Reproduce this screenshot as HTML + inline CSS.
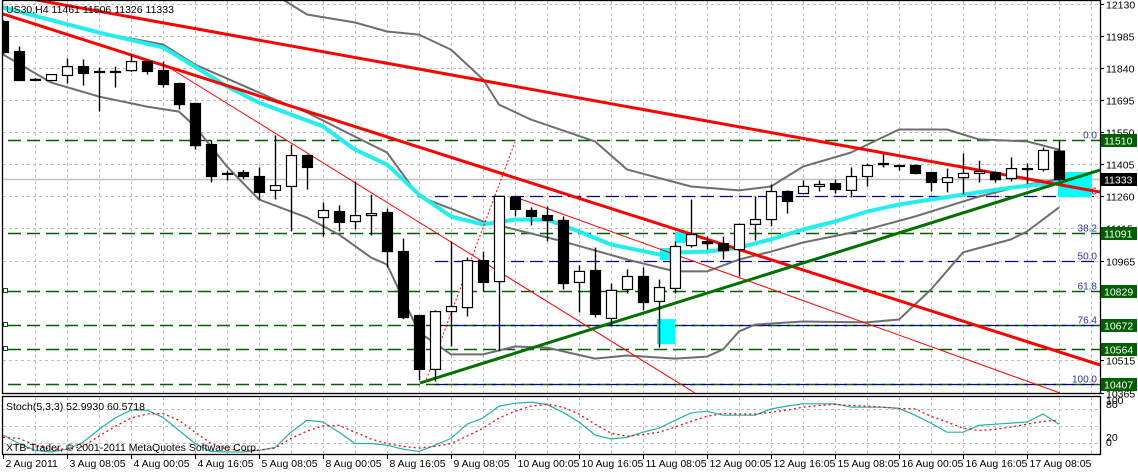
<!DOCTYPE html>
<html><head><meta charset="utf-8">
<style>
html,body{margin:0;padding:0;background:#fff;}
svg{display:block;font-family:"Liberation Sans",sans-serif;}
</style></head>
<body>
<svg id="chart" width="1138" height="472" viewBox="0 0 1138 472" xmlns="http://www.w3.org/2000/svg"></svg>
<script>
// ---- data ----
const opens  = [12048,11912,11786,11781,11804,11844,11822,11822,11826,11867,11826,11767,11677,11491,11360,11364,11346,11283,11301,11441,11160,11187,11142,11169,11183,11006,10716,10472,10734,10752,10965,10870,11251,11192,11169,11147,10866,10920,10703,10834,10893,10780,10839,11033,11051,11042,11015,11129,11151,11278,11269,11301,11314,11283,11346,11405,11396,11396,11364,11319,11341,11360,11364,11337,11382,11378,11461];
const highs  = [12055,11935,11792,11810,11881,11876,11840,11844,11899,11870,11867,11772,11680,11510,11370,11375,11387,11532,11490,11446,11228,11215,11323,11264,11201,11065,10720,10740,11052,10979,11006,11256,11256,11206,11210,11165,10943,11024,10861,10925,10934,10879,11052,11242,11074,11074,11133,11256,11310,11283,11328,11328,11332,11387,11405,11446,11400,11400,11364,11382,11450,11418,11369,11432,11405,11477,11506];
const lows   = [11900,11781,11778,11778,11767,11758,11641,11749,11820,11808,11749,11650,11468,11319,11328,11335,11242,11242,11098,11287,11074,11097,11106,11079,10934,10700,10422,10417,10576,10712,10825,10554,11165,11124,11052,10834,10730,10707,10667,10816,10739,10571,10816,11024,11015,10970,10893,11056,11120,11178,11269,11278,11269,11251,11301,11387,11373,11355,11278,11274,11265,11319,11319,11323,11314,11369,11326];
const closes = [11908,11781,11786,11808,11844,11813,11822,11822,11867,11822,11763,11672,11486,11346,11360,11346,11274,11305,11441,11387,11192,11138,11169,11178,11006,10707,10472,10734,10757,10965,10866,11256,11197,11165,11147,10861,10916,10721,10830,10893,10775,10843,11029,11083,11042,11010,11129,11151,11278,11233,11301,11310,11287,11346,11396,11400,11396,11360,11319,11341,11360,11369,11332,11382,11382,11464,11333];
const upperIdx = [17,19,22,24,26,28,30,31,33,37,39,43,46,48,50,53,56,59,61,64,66];
const upperVal = [12170,12080,12044,12003,11989,11921,11786,11672,11604,11505,11378,11301,11283,11301,11391,11455,11559,11559,11514,11505,11468];
const midIdx = [0,6,10,12,17,19,22,24,26,28,30,35,39,42,44,46,48,50,54,57,61,64,66];
const midVal = [12116,11998,11944,11853,11695,11636,11527,11455,11255,11200,11142,11052,10970,10916,10916,10970,11006,11047,11106,11165,11255,11310,11332];
const lowerIdx = [0,3,6,9,11,12,14,16,19,21,23,24,26,28,30,32,34,37,39,42,44,45,46,47,50,54,56,58,60,63,64,66];
const lowerVal = [11899,11772,11708,11663,11640,11573,11391,11242,11160,11083,10979,10947,10640,10540,10540,10576,10571,10521,10535,10521,10530,10562,10644,10675,10689,10685,10698,10834,11002,11061,11097,11206];
const maIdx = [0,6,10,12,14,16,18,20,22,24,26,28,30,32,34,36,38,41,42,44,46,48,50,52,54,56,58,60,63,66];
const maVal = [12112,11998,11931,11844,11754,11681,11627,11573,11468,11400,11264,11165,11129,11151,11151,11097,11038,10993,11002,11006,11024,11061,11106,11142,11187,11219,11242,11264,11296,11319];
const stochK = [34,19,7,4,9,21,44,64,78,78,65,42,19,5,4,4,7,12,39,60,57,39,19,19,16,9,5,16,28,53,64,85,90,92,88,74,57,34,27,30,39,46,60,73,76,69,69,69,80,85,89,89,89,83,83,83,81,69,55,39,39,51,53,55,57,71,53];
const stochD = [30,28,16,9,9,14,32,49,64,71,72,60,39,19,9,7,7,11,28,41,50,51,39,27,19,14,11,14,19,32,46,64,76,85,88,83,71,53,37,32,35,39,48,58,67,72,71,71,74,78,83,86,88,86,85,83,81,80,67,57,46,42,44,48,53,58,60];
const priceTicks = [12130,11985,11840,11695,11550,11405,11260,11115,10965,10515,10365];
const timeLabels = ["2 Aug 2011","3 Aug 08:05","4 Aug 00:05","4 Aug 16:05","5 Aug 08:05","8 Aug 00:05","8 Aug 16:05","9 Aug 08:05","10 Aug 00:05","10 Aug 16:05","11 Aug 08:05","12 Aug 00:05","12 Aug 16:05","15 Aug 08:05","16 Aug 00:05","16 Aug 16:05","17 Aug 08:05"];
const levelPrices = [11510,11091,10829,10672,10564,10407];
const fibPrices = [11510,11260,11091,10965,10829,10672,10407];
const fibNames = ["0.0","23.6","38.2","50.0","61.8","76.4","100.0"];
const fibBlue = [false,true,false,true,false,true,true];
const bidPrice = 11333;

const NS = "http://www.w3.org/2000/svg";
const svg = document.getElementById('chart');
function xC(i){ return 3 + 16*i; }
function yP(p){ return 3.5 + (12130 - p) * 32 / 145; }
function yS(v){ return 454.3 - v * 0.567; }
function mk(tag, attrs, parent){
  const e = document.createElementNS(NS, tag);
  for (const k in attrs) e.setAttribute(k, attrs[k]);
  (parent || svg).appendChild(e);
  return e;
}
function group(name){
  const g = mk('g', {});
  
  
  return g;
}
const defs = mk('defs', {});
const cp = mk('clipPath', {id:'mainclip'}, defs);
mk('rect', {x:3, y:1, width:1097, height:392}, cp);
const cp2 = mk('clipPath', {id:'stclip'}, defs);
mk('rect', {x:3, y:397, width:1097, height:57}, cp2);

const grid = group('grid');
for (let k = 1; k * 32 + 3 < 1100; k++) {
  const x = 3 + 32*k + 0.5;
  mk('line', {x1:x, y1:1, x2:x, y2:393, stroke:'#c0c0c0', 'stroke-dasharray':'3 3'}, grid);
  mk('line', {x1:x, y1:397, x2:x, y2:454, stroke:'#c0c0c0', 'stroke-dasharray':'3 3'}, grid);
}
priceTicks.forEach(p => {
  const y = Math.round(yP(p)) + 0.5;
  mk('line', {x1:3, y1:y, x2:1100, y2:y, stroke:'#c0c0c0', 'stroke-dasharray':'3 3'}, grid);
});
[80, 50, 20].forEach(v => {
  const y = Math.round(yS(v)) + 0.5;
  mk('line', {x1:3, y1:y, x2:1100, y2:y, stroke:'#c0c0c0', 'stroke-dasharray':'3 3'}, grid);
});

const main = mk('g', {'clip-path':'url(#mainclip)'});



const bl = mk('line', {x1:3, y1:Math.round(yP(bidPrice))+0.5, x2:1100, y2:Math.round(yP(bidPrice))+0.5, stroke:'#c0c0c0', 'stroke-width':1.5}, main);



levelPrices.forEach((p) => {
  const y = Math.round(yP(p)) + 0.5;
  const l = mk('line', {x1:8, y1:y, x2:1100, y2:y, stroke:'#006000', 'stroke-width':1.4, 'stroke-dasharray':'13 6'}, main);
  
  
});
fibPrices.forEach((p, k) => {
  const y = Math.round(yP(p)) + 0.5;
  if (fibBlue[k]) {
    const l = mk('line', {x1:435, y1:y, x2:1098, y2:y, stroke:'#000090', 'stroke-width':1.2, 'stroke-dasharray':'13 6'}, main);
    
    
  }
  const t = mk('text', {x:1097, y:y-2, 'font-size':10, fill:'#3030a0', 'text-anchor':'end'}, main);
  t.textContent = fibNames[k];
  
  
});

[[657,yP(10700),18,25],[660,248,12,12],[675,232,17,11],[1058,172,34,25]].forEach(r => {
  const e = mk('rect', {x:r[0], y:r[1], width:r[2], height:r[3], fill:'#00ffff'}, main);
  
  
});

function poly(idx, vals, color, w, name){
  const pts = idx.map((i, k) => xC(i) + ',' + yP(vals[k]).toFixed(1)).join(' ');
  const e = mk('polyline', {points:pts, fill:'none', stroke:color, 'stroke-width':w, 'stroke-linejoin':'round'}, main);
  
  
}
poly(upperIdx, upperVal, '#6e6e6e', 2, 'bollinger-upper');
poly(midIdx, midVal, '#6e6e6e', 2, 'bollinger-middle');
poly(lowerIdx, lowerVal, '#6e6e6e', 2, 'bollinger-lower');
poly(maIdx, maVal, '#22eeee', 4, 'moving-average');

function tl(x1,y1,x2,y2,c,w,name,dash){
  const a = {x1:x1,y1:y1,x2:x2,y2:y2,stroke:c,'stroke-width':w};
  if (dash) a['stroke-dasharray'] = dash;
  const e = mk('line', a, main);
  
  
}
tl(20,-3,1100,192,'#ff0000',3,'trendline-upper-red');
tl(0,13,1100,365,'#ff0000',3,'trendline-lower-red');
tl(165,65,695,393,'#ff0000',1,'channel-thin-red');
tl(515,197,1060,393,'#ff0000',1,'channel-thin-red-2');
tl(425,383,515,142,'#ff0000',1,'fib-trend-dotted','2 2');
tl(420,383,1100,170,'#007000',3,'trendline-green');

const cg = mk('g', {}, main);


opens.forEach((o, i) => {
  const x = xC(i) + 0.5;
  const c = closes[i];
  const w = mk('line', {x1:x, y1:yP(highs[i]), x2:x, y2:yP(lows[i]), stroke:'#000', 'stroke-width':1.4}, cg);
  
  
  const top = yP(Math.max(o, c)), bot = yP(Math.min(o, c));
  const h = Math.max(1, bot - top);
  const r = mk('rect', {x:x-5, y:top, width:10, height:h, fill:(c < o ? '#000' : '#fff'), stroke:'#000', 'stroke-width':1.2}, cg);
  
  
});

levelPrices.slice(2,5).forEach(p => {
  const e = mk('rect', {x:3.5, y:Math.round(yP(p))-2.5, width:4, height:4, fill:'#fff', stroke:'#006000'}, svg);
  
  
});

const st = mk('g', {'clip-path':'url(#stclip)'});


const kp = mk('polyline', {points:stochK.map((v,i)=>xC(i)+','+yS(v).toFixed(1)).join(' '), fill:'none', stroke:'#20b2aa', 'stroke-width':1.2}, st);


const dp = mk('polyline', {points:stochD.map((v,i)=>xC(i)+','+yS(v).toFixed(1)).join(' '), fill:'none', stroke:'#ff0000', 'stroke-width':1.3, 'stroke-dasharray':'2 3'}, st);



const f1 = mk('rect', {x:2.5, y:0.5, width:1098, height:393, fill:'none', stroke:'#000', 'stroke-width':1.3});


const f2 = mk('rect', {x:2.5, y:396.5, width:1098, height:58, fill:'none', stroke:'#000', 'stroke-width':1.3});



const ax = group('price-axis');
priceTicks.forEach(p => {
  const y = Math.round(yP(p)) + 0.5;
  mk('line', {x1:1100, y1:y, x2:1104, y2:y, stroke:'#000'}, ax);
  const t = mk('text', {x:1106, y:y+4, 'font-size':10.5, fill:'#000'}, ax);
  t.textContent = p;
  
  
});
levelPrices.forEach(p => {
  const y = Math.round(yP(p));
  mk('rect', {x:1101, y:y-6, width:36, height:13, fill:'#006000'}, ax);
  const t = mk('text', {x:1104, y:y+4.5, 'font-size':10.5, fill:'#fff'}, ax);
  t.textContent = p;
  
  
});
{
  const y = Math.round(yP(bidPrice));
  mk('rect', {x:1101, y:y-6, width:36, height:13, fill:'#000'}, ax);
  const t = mk('text', {x:1104, y:y+4.5, 'font-size':10.5, fill:'#fff'}, ax);
  t.textContent = bidPrice;
  
  
}
[[100,404],[80,408],[20,441],[0,446]].forEach(a => {
  const t = mk('text', {x:1106, y:a[1], 'font-size':10.5, fill:'#000'}, ax);
  t.textContent = a[0];
  
  
});

const tx = group('time-axis');
timeLabels.forEach((s, k) => {
  const x = 3 + 64*k + 0.5;
  mk('line', {x1:x, y1:455, x2:x, y2:459, stroke:'#000'}, tx);
  const t = mk('text', {x:x+2, y:467, 'font-size':10.5, fill:'#000'}, tx);
  t.textContent = s;
  
  
});

function label(x,y,s,name){
  const t = mk('text', {x:x, y:y, 'font-size':10.5, fill:'#000'});
  t.textContent = s;
  
  
}
label(6, 13, "US30,H4  11461 11506 11326 11333", 'chart-title');
label(6, 410, "Stoch(5,3,3) 52.9930 60.5718", 'stoch-title');
label(6, 451, "XTB-Trader, © 2001-2011 MetaQuotes Software Corp.", 'copyright');
</script>
</body></html>
